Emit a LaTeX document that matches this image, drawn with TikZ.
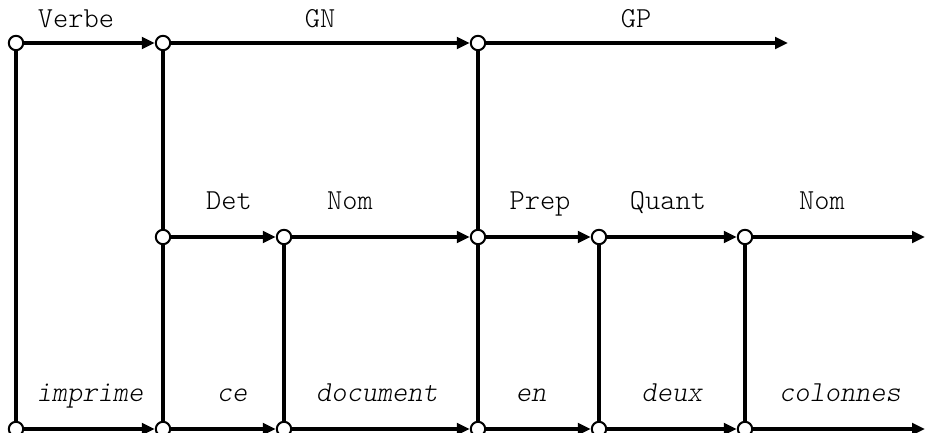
\documentclass[tikz,border=0pt]{standalone}
\usepackage{fontspec}
\usetikzlibrary{arrows.meta}
\tikzset{
  dot/.style={circle, draw, fill=white, inner sep=0pt, minimum size=7.2pt, line width=1pt},
  arc/.style={line width=1.6pt, -{Triangle[length=6.5pt,width=5.8pt]}},
  vl/.style={line width=1.9pt},
  lab/.style={font=\ttfamily\fontseries{l}\selectfont\fontsize{14.5}{17}\selectfont, inner sep=0pt, anchor=base},
  word/.style={font=\ttfamily\fontseries{l}\fontshape{sl}\selectfont\fontsize{14.5}{17}\selectfont, inner sep=0pt, anchor=base}
}
\begin{document}
\begin{tikzpicture}[x=0.5pt,y=-0.5pt]
\useasboundingbox (0,0) rectangle (926,433);
% top row
\node[dot] (t1) at (16,43) {};
\node[dot] (t2) at (163,43) {};
\node[dot] (t3) at (478,43) {};
\coordinate (tend) at (788,43);
% middle row
\node[dot] (m1) at (163,237) {};
\node[dot] (m2) at (284,237) {};
\node[dot] (m3) at (478,237) {};
\node[dot] (m4) at (599,237) {};
\node[dot] (m5) at (745,237) {};
\coordinate (mend) at (925,237);
% bottom row
\node[dot] (b1) at (16,429) {};
\node[dot] (b2) at (163,429) {};
\node[dot] (b3) at (284,429) {};
\node[dot] (b4) at (478,429) {};
\node[dot] (b5) at (599,429) {};
\node[dot] (b6) at (745,429) {};
\coordinate (bend) at (925,429);
% verticals
\draw[vl] (t1) -- (b1);
\draw[vl] (t2) -- (m1);
\draw[vl] (m1) -- (b2);
\draw[vl] (m2) -- (b3);
\draw[vl] (t3) -- (m3);
\draw[vl] (m3) -- (b4);
\draw[vl] (m4) -- (b5);
\draw[vl] (m5) -- (b6);
% horizontal arcs
\draw[arc] (t1) -- (t2);
\draw[arc] (t2) -- (t3);
\draw[arc] (t3) -- (tend);
\draw[arc] (m1) -- (m2);
\draw[arc] (m2) -- (m3);
\draw[arc] (m3) -- (m4);
\draw[arc] (m4) -- (m5);
\draw[arc] (m5) -- (mend);
\draw[arc] (b1) -- (b2);
\draw[arc] (b2) -- (b3);
\draw[arc] (b3) -- (b4);
\draw[arc] (b4) -- (b5);
\draw[arc] (b5) -- (b6);
\draw[arc] (b6) -- (bend);
% labels
\node[lab] (lverbe) at (76,28) {Verbe};
\node[lab] (lgn) at (320,28) {GN};
\node[lab] (lgp) at (636,28) {GP};
\node[lab] (ldet) at (229,209) {Det};
\node[lab] (lnom1) at (350,209) {Nom};
\node[lab] (lprep) at (540,209) {Prep};
\node[lab] (lquant) at (668,209) {Quant};
\node[lab] (lnom2) at (822,209) {Nom};
\node[word] (wimprime) at (90,401) {imprime};
\node[word] (wce) at (232,401) {ce};
\node[word] (wdocument) at (377,401) {document};
\node[word] (wen) at (531,401) {en};
\node[word] (wdeux) at (672,401) {deux};
\node[word] (wcolonnes) at (840,401) {colonnes};
\end{tikzpicture}
\end{document}
